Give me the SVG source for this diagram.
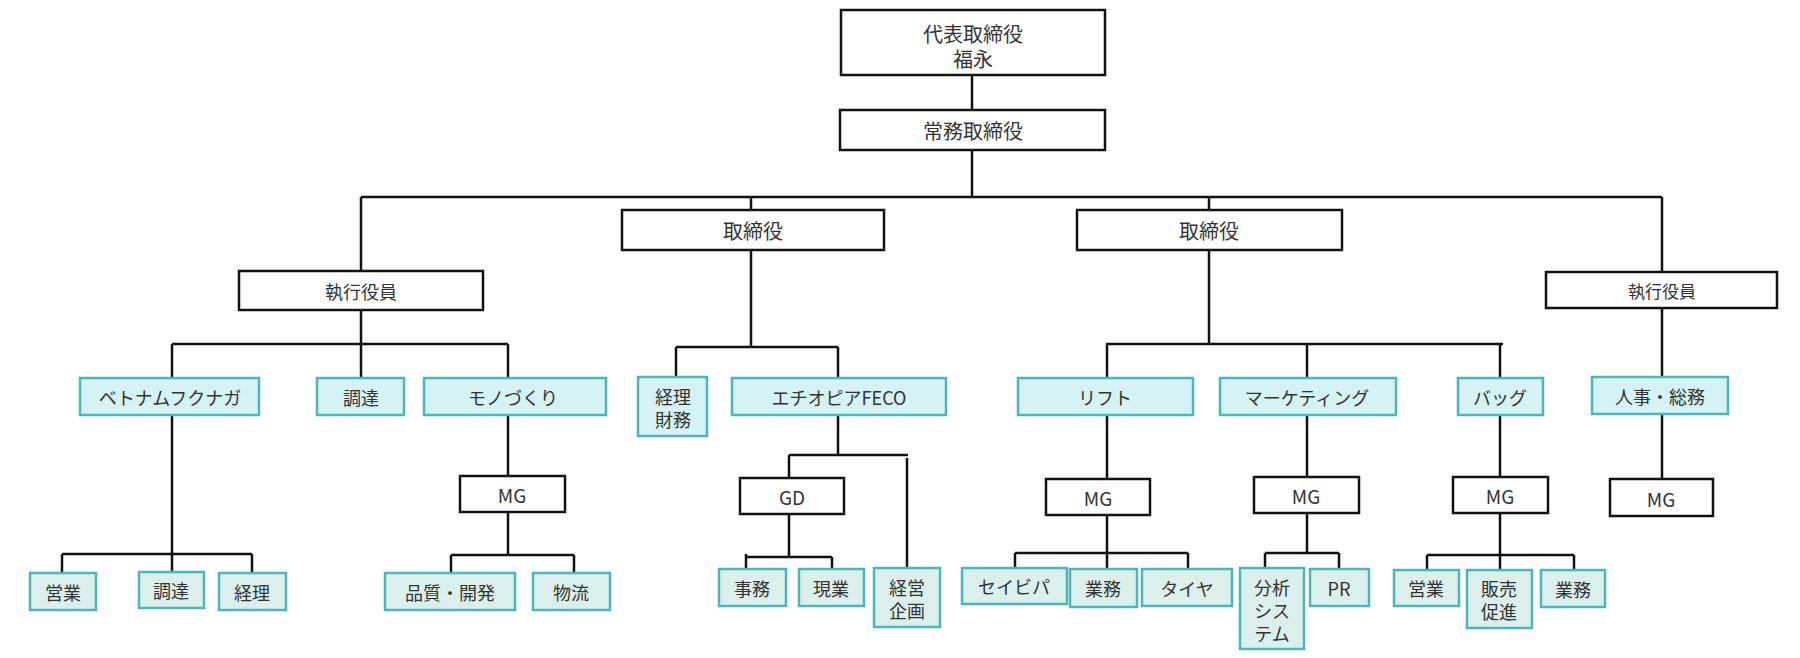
<svg xmlns="http://www.w3.org/2000/svg" width="1800" height="658" viewBox="0 0 1800 658">
<style>
.b{fill:#fff;stroke:#111;stroke-width:2.5}
.c{fill:#d5f2f5;stroke:#4db6b8;stroke-width:2.5}
.d{fill:#dbefed;stroke:#4db6b8;stroke-width:2.5}
.t{font-family:"Noto Sans CJK JP","Noto Sans",sans-serif;font-size:18px;fill:#333;text-anchor:middle;dominant-baseline:central}
.l{font-size:20px}
.s{font-size:17px}
.m{font-size:19px}
.k{stroke:#111;stroke-width:2.5;fill:none}
</style>
<rect width="1800" height="658" fill="#fff"/>
<g id="connectors" class="k">
<path d="M972 75V110M972 150V197M361 197H1662M361 197V271M751 197V210M1209 197V210M1662 197V272"/>
<path d="M361 310V344M172 344H508M172 344V378M361 344V378M508 344V378"/>
<path d="M172 415V554M62 554H252M62 554V573M172 554V572M252 554V573"/>
<path d="M508 415V476M508 512V555M451 555H574M451 555V573M574 555V573"/>
<path d="M751 250V347M676 347H838M676 347V377M838 347V378"/>
<path d="M838 415V455M789 455H908M789 455V478M907 458V568M789 514V557M746 557H832M746 554V569M832 557V569"/>
<path d="M1209 250V344M1106 344H1503M1107 344V378M1307 344V378M1500 344V378"/>
<path d="M1107 415V479M1107 515V553M1015 553H1188M1015 553V568M1107 553V569M1188 553V569"/>
<path d="M1307 415V477M1307 513V553M1265 553H1339M1265 553V568M1339 553V569"/>
<path d="M1500 415V477M1500 513V555M1427 555H1574M1427 555V570M1500 555V570M1574 555V570"/>
<path d="M1662 308V377M1662 414V479"/>
</g>
<g id="n-ceo"><rect class="b" x="841" y="10" width="264" height="65"/><text class="t l" x="973" y="33">代表取締役</text><text class="t l" x="973" y="58">福永</text></g>
<g id="n-managing"><rect class="b" x="840" y="110" width="265" height="40"/><text class="t l" x="973" y="130">常務取締役</text></g>
<g id="n-director-l"><rect class="b" x="622" y="210" width="262" height="40"/><text class="t l" x="753" y="230">取締役</text></g>
<g id="n-director-r"><rect class="b" x="1077" y="210" width="265" height="40"/><text class="t l" x="1209" y="230">取締役</text></g>
<g id="n-exec-l"><rect class="b" x="239" y="271" width="244" height="39"/><text class="t" x="361" y="291">執行役員</text></g>
<g id="n-exec-r"><rect class="b" x="1546" y="272" width="231" height="36"/><text class="t s" x="1662" y="290">執行役員</text></g>

<g id="n-vietnam"><rect class="c" x="80" y="378" width="179" height="37"/><text class="t" x="170" y="397">ベトナムフクナガ</text></g>
<g id="n-chotatsu1"><rect class="c" x="317" y="378" width="87" height="37"/><text class="t" x="361" y="397">調達</text></g>
<g id="n-monozukuri"><rect class="c" x="424" y="378" width="182" height="37"/><text class="t" x="513" y="397">モノづくり</text></g>
<g id="n-keiri-zaimu"><rect class="c" x="638" y="377" width="69" height="59"/><text class="t" x="673" y="396">経理</text><text class="t" x="673" y="419">財務</text></g>
<g id="n-ethiopia"><rect class="c" x="732" y="378" width="214" height="37"/><text class="t" x="839" y="397">エチオピアFECO</text></g>
<g id="n-lift"><rect class="c" x="1018" y="378" width="175" height="37"/><text class="t" x="1105" y="397">リフト</text></g>
<g id="n-marketing"><rect class="c" x="1220" y="378" width="176" height="37"/><text class="t" x="1307" y="397">マーケティング</text></g>
<g id="n-bag"><rect class="c" x="1458" y="378" width="85" height="37"/><text class="t" x="1500" y="397">バッグ</text></g>
<g id="n-hr"><rect class="c" x="1592" y="377" width="136" height="37"/><text class="t" x="1660" y="396">人事・総務</text></g>

<g id="n-mg-mono"><rect class="b" x="460" y="476" width="105" height="36"/><text class="t m" x="512" y="494">MG</text></g>
<g id="n-gd"><rect class="b" x="740" y="478" width="104" height="36"/><text class="t m" x="792" y="496">GD</text></g>
<g id="n-mg-lift"><rect class="b" x="1046" y="479" width="104" height="36"/><text class="t m" x="1098" y="497">MG</text></g>
<g id="n-mg-mkt"><rect class="b" x="1254" y="477" width="105" height="36"/><text class="t m" x="1306" y="495">MG</text></g>
<g id="n-mg-bag"><rect class="b" x="1453" y="477" width="95" height="36"/><text class="t m" x="1500" y="495">MG</text></g>
<g id="n-mg-hr"><rect class="b" x="1610" y="479" width="103" height="37"/><text class="t m" x="1661" y="498">MG</text></g>

<g id="n-eigyo1"><rect class="d" x="30" y="573" width="66" height="37"/><text class="t" x="63" y="592">営業</text></g>
<g id="n-chotatsu2"><rect class="d" x="139" y="572" width="65" height="36"/><text class="t" x="171" y="590">調達</text></g>
<g id="n-keiri"><rect class="d" x="219" y="573" width="67" height="37"/><text class="t" x="252" y="592">経理</text></g>
<g id="n-hinshitsu"><rect class="d" x="385" y="573" width="130" height="37"/><text class="t" x="450" y="592">品質・開発</text></g>
<g id="n-butsuryu"><rect class="d" x="533" y="573" width="77" height="37"/><text class="t" x="571" y="592">物流</text></g>
<g id="n-jimu"><rect class="d" x="719" y="569" width="67" height="37"/><text class="t" x="752" y="588">事務</text></g>
<g id="n-genba"><rect class="d" x="799" y="569" width="65" height="37"/><text class="t" x="831" y="588">現業</text></g>
<g id="n-keiei"><rect class="d" x="874" y="568" width="66" height="59"/><text class="t" x="907" y="587">経営</text><text class="t" x="907" y="610">企画</text></g>
<g id="n-seibipa"><rect class="d" x="962" y="568" width="105" height="36"/><text class="t" x="1014" y="586">セイビパ</text></g>
<g id="n-gyomu1"><rect class="d" x="1070" y="569" width="67" height="38"/><text class="t" x="1103" y="588">業務</text></g>
<g id="n-taiya"><rect class="d" x="1142" y="569" width="90" height="37"/><text class="t" x="1187" y="588">タイヤ</text></g>
<g id="n-bunseki"><rect class="d" x="1240" y="568" width="64" height="81"/><text class="t" x="1272" y="587">分析</text><text class="t" x="1272" y="610">シス</text><text class="t" x="1272" y="633">テム</text></g>
<g id="n-pr"><rect class="d" x="1310" y="569" width="59" height="37"/><text class="t" x="1339" y="588">PR</text></g>
<g id="n-eigyo2"><rect class="d" x="1394" y="570" width="65" height="36"/><text class="t" x="1426" y="588">営業</text></g>
<g id="n-hanbai"><rect class="d" x="1467" y="570" width="65" height="58"/><text class="t" x="1499" y="588">販売</text><text class="t" x="1499" y="611">促進</text></g>
<g id="n-gyomu2"><rect class="d" x="1541" y="570" width="64" height="37"/><text class="t" x="1573" y="589">業務</text></g>
</svg>
